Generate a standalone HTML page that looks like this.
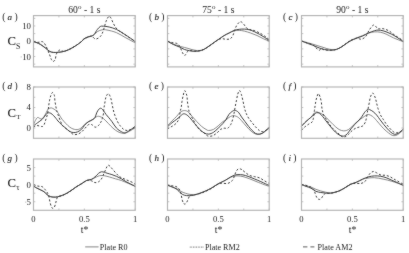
<!DOCTYPE html><html><head><meta charset="utf-8"><style>html,body{margin:0;padding:0;background:#fff;overflow:hidden;}svg{display:block;}text{font-family:"Liberation Serif",serif;fill:#1e1e1e;}</style></head><body>
<svg width="409" height="253" viewBox="0 0 409 253">
<defs><filter id="bl" filterUnits="userSpaceOnUse" x="0" y="0" width="409" height="253" color-interpolation-filters="sRGB"><feConvolveMatrix order="3" kernelMatrix="1 2 1 2 32 2 1 2 1" divisor="44" edgeMode="duplicate"/></filter></defs>
<rect width="409" height="253" fill="#fff"/><g filter="url(#bl)"><rect width="409" height="253" fill="#fff"/>
<path d="M33.5,64.15h1.8M135.2,64.15h-1.8M33.5,56.52h1.8M135.2,56.52h-1.8M33.5,48.88h1.8M135.2,48.88h-1.8M33.5,41.25h1.8M135.2,41.25h-1.8M33.5,33.62h1.8M135.2,33.62h-1.8M33.5,25.98h1.8M135.2,25.98h-1.8M33.5,18.35h1.8M135.2,18.35h-1.8M33.5,15.6v1.8M33.5,66.9v-1.8M58.92,15.6v1.8M58.92,66.9v-1.8M84.35,15.6v1.8M84.35,66.9v-1.8M109.78,15.6v1.8M109.78,66.9v-1.8M135.2,15.6v1.8M135.2,66.9v-1.8" stroke="#b4b4b4" stroke-width="0.8" fill="none"/>
<path d="M33.50,41.50 C34.08,41.73 35.82,42.37 37.00,42.90 C38.18,43.43 39.15,43.78 40.60,44.70 C42.05,45.62 44.22,47.32 45.70,48.40 C47.18,49.48 48.23,50.55 49.50,51.20 C50.77,51.85 51.82,52.12 53.30,52.30 C54.78,52.48 56.70,52.43 58.40,52.30 C60.10,52.17 61.80,51.93 63.50,51.50 C65.20,51.07 66.68,50.58 68.60,49.70 C70.52,48.82 72.88,47.53 75.00,46.20 C77.12,44.87 79.80,42.87 81.30,41.70 C82.80,40.53 82.92,39.95 84.00,39.20 C85.08,38.45 86.53,37.70 87.80,37.20 C89.07,36.70 90.53,36.60 91.60,36.20 C92.67,35.80 93.23,35.57 94.20,34.80 C95.17,34.03 96.08,32.43 97.40,31.60 C98.72,30.77 100.52,30.07 102.10,29.80 C103.68,29.53 104.52,29.53 106.90,30.00 C109.28,30.47 113.25,31.30 116.40,32.60 C119.55,33.90 122.67,36.10 125.80,37.80 C128.93,39.50 133.63,41.97 135.20,42.80" stroke="#7a7a7a" stroke-width="0.9" fill="none" stroke-linejoin="round"/>
<path d="M33.50,41.50 C34.25,41.65 36.50,42.37 38.00,42.40 C39.50,42.43 41.22,41.18 42.50,41.70 C43.78,42.22 44.53,43.38 45.70,45.50 C46.87,47.62 48.55,52.07 49.50,54.40 C50.45,56.73 50.77,58.33 51.40,59.50 C52.03,60.67 52.67,61.40 53.30,61.40 C53.93,61.40 54.67,60.77 55.20,59.50 C55.73,58.23 55.75,55.38 56.50,53.80 C57.25,52.22 58.53,50.42 59.70,50.00 C60.87,49.58 62.02,51.35 63.50,51.30 C64.98,51.25 66.68,50.55 68.60,49.70 C70.52,48.85 72.88,47.53 75.00,46.20 C77.12,44.87 79.80,42.93 81.30,41.70 C82.80,40.47 82.92,39.53 84.00,38.80 C85.08,38.07 86.53,37.73 87.80,37.30 C89.07,36.87 90.40,35.93 91.60,36.20 C92.80,36.47 93.93,38.55 95.00,38.90 C96.07,39.25 97.08,38.73 98.00,38.30 C98.92,37.87 99.80,37.10 100.50,36.30 C101.20,35.50 101.70,34.55 102.20,33.50 C102.70,32.45 103.07,31.33 103.50,30.00 C103.93,28.67 104.38,26.92 104.80,25.50 C105.22,24.08 105.55,22.72 106.00,21.50 C106.45,20.28 106.97,19.08 107.50,18.20 C108.03,17.32 108.62,16.20 109.20,16.20 C109.78,16.20 110.30,16.98 111.00,18.20 C111.70,19.42 112.60,21.93 113.40,23.50 C114.20,25.07 114.92,26.42 115.80,27.60 C116.68,28.78 117.42,29.60 118.70,30.60 C119.98,31.60 121.72,32.42 123.50,33.60 C125.28,34.78 127.42,36.42 129.40,37.70 C131.38,38.98 134.40,40.70 135.40,41.30" stroke="#3c3c3c" stroke-width="1.0" fill="none" stroke-dasharray="2.1,1.9" stroke-linejoin="round"/>
<path d="M33.50,41.50 C34.08,41.70 35.82,42.22 37.00,42.70 C38.18,43.18 39.15,43.50 40.60,44.40 C42.05,45.30 44.22,46.95 45.70,48.10 C47.18,49.25 48.23,50.57 49.50,51.30 C50.77,52.03 51.82,52.33 53.30,52.50 C54.78,52.67 56.70,52.47 58.40,52.30 C60.10,52.13 61.80,51.93 63.50,51.50 C65.20,51.07 66.68,50.58 68.60,49.70 C70.52,48.82 72.88,47.53 75.00,46.20 C77.12,44.87 79.80,42.93 81.30,41.70 C82.80,40.47 82.92,39.60 84.00,38.80 C85.08,38.00 86.53,37.38 87.80,36.90 C89.07,36.42 90.53,36.33 91.60,35.90 C92.67,35.47 93.23,35.38 94.20,34.30 C95.17,33.22 96.38,30.70 97.40,29.40 C98.42,28.10 99.32,27.03 100.30,26.50 C101.28,25.97 101.82,26.12 103.30,26.20 C104.78,26.28 107.02,26.47 109.20,27.00 C111.38,27.53 114.02,28.30 116.40,29.40 C118.78,30.50 121.13,32.12 123.50,33.60 C125.87,35.08 128.62,36.92 130.60,38.30 C132.58,39.68 134.60,41.30 135.40,41.90" stroke="#404040" stroke-width="1.0" fill="none" stroke-linejoin="round"/>
<rect x="33.5" y="15.6" width="101.7" height="51.3" fill="none" stroke="#b4b4b4" stroke-width="1.15"/>
<path d="M167.5,64.15h1.8M269.2,64.15h-1.8M167.5,56.52h1.8M269.2,56.52h-1.8M167.5,48.88h1.8M269.2,48.88h-1.8M167.5,41.25h1.8M269.2,41.25h-1.8M167.5,33.62h1.8M269.2,33.62h-1.8M167.5,25.98h1.8M269.2,25.98h-1.8M167.5,18.35h1.8M269.2,18.35h-1.8M167.5,15.6v1.8M167.5,66.9v-1.8M192.93,15.6v1.8M192.93,66.9v-1.8M218.35,15.6v1.8M218.35,66.9v-1.8M243.78,15.6v1.8M243.78,66.9v-1.8M269.2,15.6v1.8M269.2,66.9v-1.8" stroke="#b4b4b4" stroke-width="0.8" fill="none"/>
<path d="M167.50,41.20 C168.47,41.67 171.72,43.32 173.30,44.00 C174.88,44.68 175.77,44.87 177.00,45.30 C178.23,45.73 179.48,46.25 180.70,46.60 C181.92,46.95 183.08,47.10 184.30,47.40 C185.52,47.70 186.72,48.03 188.00,48.40 C189.28,48.77 190.67,49.27 192.00,49.60 C193.33,49.93 194.83,50.23 196.00,50.40 C197.17,50.57 197.68,50.77 199.00,50.60 C200.32,50.43 202.07,50.27 203.90,49.40 C205.73,48.53 207.98,46.78 210.00,45.40 C212.02,44.02 214.50,42.15 216.00,41.10 C217.50,40.05 217.65,40.02 219.00,39.10 C220.35,38.18 222.42,36.62 224.10,35.60 C225.78,34.58 227.42,33.80 229.10,33.00 C230.78,32.20 232.50,31.23 234.20,30.80 C235.90,30.37 237.62,30.35 239.30,30.40 C240.98,30.45 242.42,30.67 244.30,31.10 C246.18,31.53 248.48,32.27 250.60,33.00 C252.72,33.73 254.88,34.55 257.00,35.50 C259.12,36.45 261.27,37.75 263.30,38.70 C265.33,39.65 268.22,40.78 269.20,41.20" stroke="#7a7a7a" stroke-width="0.9" fill="none" stroke-linejoin="round"/>
<path d="M167.50,41.20 C168.23,41.43 170.37,42.18 171.90,42.55 C173.43,42.92 175.52,42.96 176.70,43.40 C177.88,43.84 178.32,44.30 179.00,45.20 C179.68,46.10 180.20,47.52 180.80,48.80 C181.40,50.08 182.00,51.82 182.60,52.90 C183.20,53.98 183.80,55.10 184.40,55.30 C185.00,55.50 185.70,54.70 186.20,54.10 C186.70,53.50 186.82,52.30 187.40,51.70 C187.98,51.10 188.58,50.60 189.70,50.50 C190.82,50.40 192.55,51.05 194.10,51.10 C195.65,51.15 197.37,51.08 199.00,50.80 C200.63,50.52 202.07,50.30 203.90,49.40 C205.73,48.50 207.98,46.78 210.00,45.40 C212.02,44.02 214.42,42.17 216.00,41.10 C217.58,40.03 218.37,39.38 219.50,39.00 C220.63,38.62 221.62,38.75 222.80,38.80 C223.98,38.85 225.33,39.32 226.60,39.30 C227.87,39.28 229.35,39.33 230.40,38.70 C231.45,38.07 232.17,36.98 232.90,35.50 C233.63,34.02 234.17,31.48 234.80,29.80 C235.43,28.12 235.95,26.67 236.70,25.40 C237.45,24.13 238.67,22.80 239.30,22.20 C239.93,21.60 240.08,21.80 240.50,21.80 C240.92,21.80 241.27,21.82 241.80,22.20 C242.33,22.58 243.07,23.35 243.70,24.10 C244.33,24.85 244.87,25.85 245.60,26.70 C246.33,27.55 247.05,28.67 248.10,29.20 C249.15,29.73 250.42,29.48 251.90,29.90 C253.38,30.32 255.32,30.97 257.00,31.70 C258.68,32.43 260.32,33.25 262.00,34.30 C263.68,35.35 265.90,37.10 267.10,38.00 C268.30,38.90 268.85,39.42 269.20,39.70" stroke="#3c3c3c" stroke-width="1.0" fill="none" stroke-dasharray="2.1,1.9" stroke-linejoin="round"/>
<path d="M167.50,41.20 C168.47,41.75 171.32,43.51 173.30,44.48 C175.28,45.45 177.57,46.18 179.40,47.00 C181.23,47.82 182.67,48.78 184.30,49.40 C185.93,50.02 187.57,50.38 189.20,50.70 C190.83,51.02 192.47,51.25 194.10,51.30 C195.73,51.35 197.37,51.32 199.00,51.00 C200.63,50.68 202.07,50.33 203.90,49.40 C205.73,48.47 207.98,46.78 210.00,45.40 C212.02,44.02 214.50,42.15 216.00,41.10 C217.50,40.05 217.65,40.02 219.00,39.10 C220.35,38.18 222.42,36.62 224.10,35.60 C225.78,34.58 227.42,33.87 229.10,33.00 C230.78,32.13 232.50,31.02 234.20,30.40 C235.90,29.78 237.62,29.52 239.30,29.30 C240.98,29.08 242.62,29.02 244.30,29.10 C245.98,29.18 247.72,29.37 249.40,29.80 C251.08,30.23 252.72,30.95 254.40,31.70 C256.08,32.45 257.80,33.35 259.50,34.30 C261.20,35.25 262.98,36.35 264.60,37.40 C266.22,38.45 268.43,40.07 269.20,40.60" stroke="#404040" stroke-width="1.0" fill="none" stroke-linejoin="round"/>
<rect x="167.5" y="15.6" width="101.7" height="51.3" fill="none" stroke="#b4b4b4" stroke-width="1.15"/>
<path d="M301.5,64.15h1.8M403.2,64.15h-1.8M301.5,56.52h1.8M403.2,56.52h-1.8M301.5,48.88h1.8M403.2,48.88h-1.8M301.5,41.25h1.8M403.2,41.25h-1.8M301.5,33.62h1.8M403.2,33.62h-1.8M301.5,25.98h1.8M403.2,25.98h-1.8M301.5,18.35h1.8M403.2,18.35h-1.8M301.5,15.6v1.8M301.5,66.9v-1.8M326.93,15.6v1.8M326.93,66.9v-1.8M352.35,15.6v1.8M352.35,66.9v-1.8M377.77,15.6v1.8M377.77,66.9v-1.8M403.2,15.6v1.8M403.2,66.9v-1.8" stroke="#b4b4b4" stroke-width="0.8" fill="none"/>
<path d="M301.50,41.00 C302.47,41.27 305.52,42.10 307.30,42.60 C309.08,43.10 310.57,43.52 312.20,44.00 C313.83,44.48 315.47,45.00 317.10,45.50 C318.73,46.00 320.37,46.48 322.00,47.00 C323.63,47.52 325.27,48.17 326.90,48.60 C328.53,49.03 330.17,49.48 331.80,49.60 C333.43,49.72 335.07,49.76 336.70,49.30 C338.33,48.84 339.97,47.82 341.60,46.82 C343.23,45.82 344.95,44.36 346.50,43.30 C348.05,42.23 349.20,41.35 350.90,40.43 C352.60,39.51 354.75,38.60 356.70,37.80 C358.65,36.99 360.63,36.38 362.60,35.60 C364.57,34.82 366.55,33.72 368.50,33.10 C370.45,32.48 372.35,32.05 374.30,31.90 C376.25,31.75 378.23,31.83 380.20,32.20 C382.17,32.57 383.90,33.17 386.10,34.10 C388.30,35.03 390.52,36.52 393.40,37.80 C396.28,39.07 401.73,41.09 403.40,41.75" stroke="#7a7a7a" stroke-width="0.9" fill="none" stroke-linejoin="round"/>
<path d="M301.50,41.00 C302.47,41.33 305.52,42.39 307.30,42.99 C309.08,43.59 310.92,44.00 312.20,44.60 C313.48,45.20 314.12,45.80 315.00,46.60 C315.88,47.40 316.75,48.80 317.50,49.40 C318.25,50.00 318.83,50.33 319.50,50.20 C320.17,50.07 320.75,48.65 321.50,48.60 C322.25,48.55 323.10,49.65 324.00,49.90 C324.90,50.15 325.60,50.05 326.90,50.10 C328.20,50.15 330.17,50.33 331.80,50.20 C333.43,50.07 335.07,49.86 336.70,49.30 C338.33,48.74 339.97,47.84 341.60,46.82 C343.23,45.80 344.95,44.30 346.50,43.20 C348.05,42.10 349.20,41.03 350.90,40.20 C352.60,39.37 355.00,38.37 356.70,38.20 C358.40,38.03 359.63,39.45 361.10,39.20 C362.57,38.95 364.15,38.22 365.50,36.70 C366.85,35.18 367.97,31.98 369.20,30.10 C370.43,28.22 371.92,26.13 372.90,25.40 C373.88,24.67 374.25,25.15 375.10,25.70 C375.95,26.25 376.67,28.20 378.00,28.70 C379.33,29.20 381.27,28.33 383.10,28.70 C384.93,29.07 387.03,29.80 389.00,30.90 C390.97,32.00 392.50,33.65 394.90,35.30 C397.30,36.95 401.98,39.88 403.40,40.80" stroke="#3c3c3c" stroke-width="1.0" fill="none" stroke-dasharray="2.1,1.9" stroke-linejoin="round"/>
<path d="M301.50,41.00 C302.47,41.38 305.52,42.62 307.30,43.29 C309.08,43.96 310.57,44.37 312.20,45.00 C313.83,45.63 315.47,46.45 317.10,47.10 C318.73,47.75 320.37,48.43 322.00,48.90 C323.63,49.37 325.27,49.68 326.90,49.90 C328.53,50.12 330.17,50.30 331.80,50.20 C333.43,50.10 335.07,49.86 336.70,49.30 C338.33,48.74 339.97,47.80 341.60,46.82 C343.23,45.84 344.95,44.45 346.50,43.44 C348.05,42.42 349.20,41.60 350.90,40.73 C352.60,39.86 354.75,38.99 356.70,38.20 C358.65,37.41 360.63,36.87 362.60,36.00 C364.57,35.13 366.55,33.87 368.50,33.00 C370.45,32.13 372.72,31.28 374.30,30.80 C375.88,30.32 376.53,30.10 378.00,30.10 C379.47,30.10 381.27,30.32 383.10,30.80 C384.93,31.28 387.03,32.13 389.00,33.00 C390.97,33.87 392.50,34.57 394.90,36.00 C397.30,37.43 401.98,40.65 403.40,41.58" stroke="#404040" stroke-width="1.0" fill="none" stroke-linejoin="round"/>
<rect x="301.5" y="15.6" width="101.7" height="51.3" fill="none" stroke="#b4b4b4" stroke-width="1.15"/>
<path d="M33.5,128.04h1.8M135.2,128.04h-1.8M33.5,117.78h1.8M135.2,117.78h-1.8M33.5,107.52h1.8M135.2,107.52h-1.8M33.5,97.26h1.8M135.2,97.26h-1.8M33.5,87h1.8M135.2,87h-1.8M33.5,87v1.8M33.5,138.3v-1.8M58.92,87v1.8M58.92,138.3v-1.8M84.35,87v1.8M84.35,138.3v-1.8M109.78,87v1.8M109.78,138.3v-1.8M135.2,87v1.8M135.2,138.3v-1.8" stroke="#b4b4b4" stroke-width="0.8" fill="none"/>
<path d="M33.50,124.70 C33.80,124.02 34.63,121.80 35.30,120.60 C35.97,119.40 36.77,117.87 37.50,117.50 C38.23,117.13 39.05,118.17 39.70,118.40 C40.35,118.63 40.83,119.00 41.40,118.90 C41.97,118.80 42.45,118.53 43.10,117.80 C43.75,117.07 44.57,115.78 45.30,114.50 C46.03,113.22 46.95,111.08 47.50,110.10 C48.05,109.12 47.95,108.97 48.60,108.60 C49.25,108.23 50.48,107.80 51.40,107.90 C52.32,108.00 53.30,108.72 54.10,109.20 C54.90,109.68 55.47,110.08 56.20,110.80 C56.93,111.52 57.48,112.05 58.50,113.50 C59.52,114.95 60.43,117.23 62.30,119.50 C64.17,121.77 67.45,125.42 69.70,127.10 C71.95,128.78 73.97,129.40 75.80,129.60 C77.63,129.80 79.07,129.33 80.70,128.30 C82.33,127.27 83.97,124.62 85.60,123.40 C87.23,122.18 88.67,122.12 90.50,121.00 C92.33,119.88 95.02,117.43 96.60,116.70 C98.18,115.97 98.83,116.27 100.00,116.60 C101.17,116.93 102.22,117.57 103.60,118.70 C104.98,119.83 106.73,121.82 108.30,123.40 C109.87,124.98 111.42,126.82 113.00,128.20 C114.58,129.58 116.32,130.88 117.80,131.70 C119.28,132.52 120.72,132.83 121.90,133.10 C123.08,133.37 123.60,133.63 124.90,133.30 C126.20,132.97 127.95,132.05 129.70,131.10 C131.45,130.15 134.45,128.18 135.40,127.60" stroke="#7a7a7a" stroke-width="0.9" fill="none" stroke-linejoin="round"/>
<path d="M33.50,127.20 C33.98,126.93 35.45,125.82 36.40,125.60 C37.35,125.38 38.18,125.75 39.20,125.90 C40.22,126.05 41.67,126.73 42.50,126.50 C43.33,126.27 43.73,125.40 44.20,124.50 C44.67,123.60 44.93,122.22 45.30,121.10 C45.67,119.98 46.03,118.98 46.40,117.80 C46.77,116.62 47.18,115.47 47.50,114.00 C47.82,112.53 48.08,110.50 48.30,109.00 C48.52,107.50 48.58,106.47 48.80,105.00 C49.02,103.53 49.27,101.78 49.60,100.20 C49.93,98.62 50.30,96.78 50.80,95.50 C51.30,94.22 52.00,92.50 52.60,92.50 C53.20,92.50 54.02,94.12 54.40,95.50 C54.78,96.88 54.67,99.02 54.90,100.80 C55.13,102.58 55.52,104.67 55.80,106.20 C56.08,107.73 56.27,108.70 56.60,110.00 C56.93,111.30 57.23,112.33 57.80,114.00 C58.37,115.67 59.18,118.03 60.00,120.00 C60.82,121.97 61.70,124.37 62.70,125.80 C63.70,127.23 64.82,127.63 66.00,128.60 C67.18,129.57 68.57,130.63 69.80,131.60 C71.03,132.57 72.08,133.97 73.40,134.40 C74.72,134.83 76.32,134.63 77.70,134.20 C79.08,133.77 80.43,132.83 81.70,131.80 C82.97,130.77 84.18,129.18 85.30,128.00 C86.42,126.82 87.33,125.27 88.40,124.70 C89.47,124.13 90.58,124.18 91.70,124.60 C92.82,125.02 93.98,127.03 95.10,127.20 C96.22,127.37 97.40,126.52 98.40,125.60 C99.40,124.68 100.45,122.90 101.10,121.70 C101.75,120.50 101.92,119.68 102.30,118.40 C102.68,117.12 103.13,115.67 103.40,114.00 C103.67,112.33 103.68,110.10 103.90,108.40 C104.12,106.70 104.37,105.65 104.70,103.80 C105.03,101.95 105.30,98.98 105.90,97.30 C106.50,95.62 107.50,93.60 108.30,93.70 C109.10,93.80 110.00,95.82 110.70,97.90 C111.40,99.98 111.92,103.63 112.50,106.20 C113.08,108.77 113.42,110.83 114.20,113.30 C114.98,115.77 116.20,118.92 117.20,121.00 C118.20,123.08 119.12,124.40 120.20,125.80 C121.28,127.20 122.52,128.62 123.70,129.40 C124.88,130.18 126.12,130.50 127.30,130.50 C128.48,130.50 129.45,129.95 130.80,129.40 C132.15,128.85 134.63,127.57 135.40,127.20" stroke="#3c3c3c" stroke-width="1.0" fill="none" stroke-dasharray="2.1,1.9" stroke-linejoin="round"/>
<path d="M33.50,125.80 C34.17,125.30 36.08,123.85 37.50,122.80 C38.92,121.75 40.80,120.60 42.00,119.50 C43.20,118.40 43.88,117.22 44.70,116.20 C45.52,115.18 46.25,113.97 46.90,113.40 C47.55,112.83 47.95,112.82 48.60,112.80 C49.25,112.78 49.97,112.83 50.80,113.30 C51.63,113.77 52.73,114.75 53.60,115.60 C54.47,116.45 55.27,117.50 56.00,118.40 C56.73,119.30 57.13,120.02 58.00,121.00 C58.87,121.98 59.88,123.08 61.20,124.30 C62.52,125.52 64.47,127.10 65.90,128.30 C67.33,129.50 68.48,130.78 69.80,131.50 C71.12,132.22 72.48,132.55 73.80,132.60 C75.12,132.65 76.38,132.38 77.70,131.80 C79.02,131.22 80.57,130.17 81.70,129.10 C82.83,128.03 83.38,126.65 84.50,125.40 C85.62,124.15 87.00,122.58 88.40,121.60 C89.80,120.62 91.78,120.22 92.90,119.50 C94.02,118.78 94.47,118.42 95.10,117.30 C95.73,116.18 96.07,114.15 96.70,112.80 C97.33,111.45 98.17,109.95 98.90,109.20 C99.63,108.45 100.35,108.07 101.10,108.30 C101.85,108.53 102.57,109.57 103.40,110.60 C104.23,111.63 105.18,113.30 106.10,114.50 C107.02,115.70 107.92,116.60 108.90,117.80 C109.88,119.00 110.72,119.97 112.00,121.70 C113.28,123.43 115.03,126.53 116.60,128.20 C118.17,129.87 120.02,130.92 121.40,131.70 C122.78,132.48 123.72,133.00 124.90,132.90 C126.08,132.80 127.32,131.78 128.50,131.10 C129.68,130.42 130.85,129.68 132.00,128.80 C133.15,127.92 134.83,126.30 135.40,125.80" stroke="#404040" stroke-width="1.0" fill="none" stroke-linejoin="round"/>
<rect x="33.5" y="87" width="101.7" height="51.3" fill="none" stroke="#b4b4b4" stroke-width="1.15"/>
<path d="M167.5,128.04h1.8M269.2,128.04h-1.8M167.5,117.78h1.8M269.2,117.78h-1.8M167.5,107.52h1.8M269.2,107.52h-1.8M167.5,97.26h1.8M269.2,97.26h-1.8M167.5,87h1.8M269.2,87h-1.8M167.5,87v1.8M167.5,138.3v-1.8M192.93,87v1.8M192.93,138.3v-1.8M218.35,87v1.8M218.35,138.3v-1.8M243.78,87v1.8M243.78,138.3v-1.8M269.2,87v1.8M269.2,138.3v-1.8" stroke="#b4b4b4" stroke-width="0.8" fill="none"/>
<path d="M167.30,125.80 C168.07,125.00 170.33,122.58 171.90,121.00 C173.47,119.42 175.32,117.77 176.70,116.30 C178.08,114.83 179.02,113.15 180.20,112.20 C181.38,111.25 182.52,110.70 183.80,110.60 C185.08,110.50 186.52,110.65 187.90,111.60 C189.28,112.55 190.62,114.63 192.10,116.30 C193.58,117.97 195.22,119.92 196.80,121.60 C198.38,123.28 200.07,125.10 201.60,126.40 C203.13,127.70 204.82,128.72 206.00,129.40 C207.18,130.08 207.45,130.50 208.70,130.50 C209.95,130.50 211.92,130.18 213.50,129.40 C215.08,128.62 216.62,127.10 218.20,125.80 C219.78,124.50 221.70,122.58 223.00,121.60 C224.30,120.62 225.02,120.58 226.00,119.90 C226.98,119.22 227.82,118.20 228.90,117.50 C229.98,116.80 231.32,115.92 232.50,115.70 C233.68,115.48 234.90,115.80 236.00,116.20 C237.10,116.60 237.78,116.90 239.10,118.10 C240.42,119.30 242.32,121.62 243.90,123.40 C245.48,125.18 247.02,127.22 248.60,128.80 C250.18,130.38 252.02,131.98 253.40,132.90 C254.78,133.82 255.72,134.10 256.90,134.30 C258.08,134.50 259.32,134.43 260.50,134.10 C261.68,133.77 262.55,133.28 264.00,132.30 C265.45,131.32 268.33,128.88 269.20,128.20" stroke="#7a7a7a" stroke-width="0.9" fill="none" stroke-linejoin="round"/>
<path d="M167.30,128.80 C168.07,128.40 170.43,127.30 171.90,126.40 C173.37,125.50 174.92,124.68 176.10,123.40 C177.28,122.12 178.32,120.68 179.00,118.70 C179.68,116.72 179.83,113.38 180.20,111.50 C180.57,109.62 180.90,109.08 181.20,107.40 C181.50,105.72 181.67,103.38 182.00,101.40 C182.33,99.42 182.75,97.28 183.20,95.50 C183.65,93.72 184.10,90.70 184.70,90.70 C185.30,90.70 186.35,93.72 186.80,95.50 C187.25,97.28 187.15,99.42 187.40,101.40 C187.65,103.38 188.02,105.72 188.30,107.40 C188.58,109.08 188.82,110.40 189.10,111.50 C189.38,112.60 189.30,112.60 190.00,114.00 C190.70,115.40 192.17,117.83 193.30,119.90 C194.43,121.97 195.62,124.63 196.80,126.40 C197.98,128.17 199.20,129.43 200.40,130.50 C201.60,131.57 202.80,131.90 204.00,132.80 C205.20,133.70 206.22,135.38 207.60,135.90 C208.98,136.42 210.73,136.40 212.30,135.90 C213.87,135.40 215.62,133.98 217.00,132.90 C218.38,131.82 219.40,130.18 220.60,129.40 C221.80,128.62 223.02,128.40 224.20,128.20 C225.38,128.00 226.62,128.80 227.70,128.20 C228.78,127.60 229.90,125.98 230.70,124.60 C231.50,123.22 232.00,121.48 232.50,119.90 C233.00,118.32 233.38,116.50 233.70,115.10 C234.02,113.70 234.13,112.98 234.40,111.50 C234.67,110.02 234.95,108.08 235.30,106.20 C235.65,104.32 236.10,102.18 236.50,100.20 C236.90,98.22 237.20,95.92 237.70,94.30 C238.20,92.68 238.90,90.50 239.50,90.50 C240.10,90.50 240.75,92.68 241.30,94.30 C241.85,95.92 242.32,98.12 242.80,100.20 C243.28,102.28 243.78,105.00 244.20,106.80 C244.62,108.60 244.93,109.83 245.30,111.00 C245.67,112.17 245.85,112.62 246.40,113.80 C246.95,114.98 247.63,116.60 248.60,118.10 C249.57,119.60 251.02,121.32 252.20,122.80 C253.38,124.28 254.52,125.72 255.70,127.00 C256.88,128.28 258.12,129.72 259.30,130.50 C260.48,131.28 261.62,131.80 262.80,131.70 C263.98,131.60 265.33,130.58 266.40,129.90 C267.47,129.22 268.73,127.98 269.20,127.60" stroke="#3c3c3c" stroke-width="1.0" fill="none" stroke-dasharray="2.1,1.9" stroke-linejoin="round"/>
<path d="M167.30,127.00 C168.07,126.30 170.33,124.08 171.90,122.80 C173.47,121.52 175.32,120.38 176.70,119.30 C178.08,118.22 179.12,117.20 180.20,116.30 C181.28,115.40 182.20,114.20 183.20,113.90 C184.20,113.60 185.12,113.90 186.20,114.50 C187.28,115.10 188.32,116.02 189.70,117.50 C191.08,118.98 192.92,121.52 194.50,123.40 C196.08,125.28 197.62,127.22 199.20,128.80 C200.78,130.38 202.42,132.02 204.00,132.90 C205.58,133.78 207.12,134.20 208.70,134.10 C210.28,134.00 211.92,133.28 213.50,132.30 C215.08,131.32 216.62,129.68 218.20,128.20 C219.78,126.72 221.70,124.85 223.00,123.40 C224.30,121.95 225.02,120.98 226.00,119.50 C226.98,118.02 227.92,115.82 228.90,114.50 C229.88,113.18 230.92,112.28 231.90,111.60 C232.88,110.92 233.72,110.30 234.80,110.40 C235.88,110.50 237.28,111.12 238.40,112.20 C239.52,113.28 240.40,115.33 241.50,116.90 C242.60,118.47 243.82,120.02 245.00,121.60 C246.18,123.18 247.40,124.92 248.60,126.40 C249.80,127.88 251.02,129.32 252.20,130.50 C253.38,131.68 254.52,132.90 255.70,133.50 C256.88,134.10 258.12,134.20 259.30,134.10 C260.48,134.00 261.62,133.60 262.80,132.90 C263.98,132.20 265.33,130.78 266.40,129.90 C267.47,129.02 268.73,127.98 269.20,127.60" stroke="#404040" stroke-width="1.0" fill="none" stroke-linejoin="round"/>
<rect x="167.5" y="87" width="101.7" height="51.3" fill="none" stroke="#b4b4b4" stroke-width="1.15"/>
<path d="M301.5,128.04h1.8M403.2,128.04h-1.8M301.5,117.78h1.8M403.2,117.78h-1.8M301.5,107.52h1.8M403.2,107.52h-1.8M301.5,97.26h1.8M403.2,97.26h-1.8M301.5,87h1.8M403.2,87h-1.8M301.5,87v1.8M301.5,138.3v-1.8M326.93,87v1.8M326.93,138.3v-1.8M352.35,87v1.8M352.35,138.3v-1.8M377.77,87v1.8M377.77,138.3v-1.8M403.2,87v1.8M403.2,138.3v-1.8" stroke="#b4b4b4" stroke-width="0.8" fill="none"/>
<path d="M301.50,126.20 C302.23,125.43 304.37,123.05 305.90,121.60 C307.43,120.15 309.12,119.07 310.70,117.50 C312.28,115.93 314.02,113.00 315.40,112.20 C316.78,111.40 317.62,112.22 319.00,112.70 C320.38,113.18 322.12,113.90 323.70,115.10 C325.28,116.30 326.92,118.32 328.50,119.90 C330.08,121.48 331.62,123.12 333.20,124.60 C334.78,126.08 336.60,127.82 338.00,128.80 C339.40,129.78 340.42,130.17 341.60,130.50 C342.78,130.83 343.92,130.98 345.10,130.80 C346.28,130.62 347.52,130.13 348.70,129.40 C349.88,128.67 351.02,127.50 352.20,126.40 C353.38,125.30 354.60,123.88 355.80,122.80 C357.00,121.72 358.22,120.78 359.40,119.90 C360.58,119.02 361.72,118.30 362.90,117.50 C364.08,116.70 365.52,115.60 366.50,115.10 C367.48,114.60 367.82,114.30 368.80,114.50 C369.78,114.70 371.45,115.68 372.40,116.30 C373.35,116.92 373.40,117.02 374.50,118.20 C375.60,119.38 377.45,121.63 379.00,123.40 C380.55,125.17 382.22,127.22 383.80,128.80 C385.38,130.38 387.12,131.82 388.50,132.90 C389.88,133.98 390.90,134.87 392.10,135.30 C393.30,135.73 394.52,135.80 395.70,135.50 C396.88,135.20 397.92,134.43 399.20,133.50 C400.48,132.57 402.70,130.50 403.40,129.90" stroke="#7a7a7a" stroke-width="0.9" fill="none" stroke-linejoin="round"/>
<path d="M301.50,130.30 C302.03,129.75 303.47,128.05 304.70,127.00 C305.93,125.95 307.70,124.80 308.90,124.00 C310.10,123.20 311.17,123.08 311.90,122.20 C312.63,121.32 312.92,120.38 313.30,118.70 C313.68,117.02 313.95,113.88 314.20,112.10 C314.45,110.32 314.60,109.38 314.80,108.00 C315.00,106.62 315.10,105.48 315.40,103.80 C315.70,102.12 316.10,99.58 316.60,97.90 C317.10,96.22 317.80,93.80 318.40,93.70 C319.00,93.60 319.70,95.82 320.20,97.30 C320.70,98.78 321.12,100.82 321.40,102.60 C321.68,104.38 321.72,106.62 321.90,108.00 C322.08,109.38 322.20,109.72 322.50,110.90 C322.80,112.08 323.00,113.60 323.70,115.10 C324.40,116.60 325.70,118.32 326.70,119.90 C327.70,121.48 328.72,123.22 329.70,124.60 C330.68,125.98 331.62,127.12 332.60,128.20 C333.58,129.28 334.52,130.12 335.60,131.10 C336.68,132.08 338.03,133.18 339.10,134.10 C340.17,135.02 341.00,136.15 342.00,136.60 C343.00,137.05 343.98,137.22 345.10,136.80 C346.22,136.38 347.52,135.15 348.70,134.10 C349.88,133.05 351.02,131.48 352.20,130.50 C353.38,129.52 354.60,128.78 355.80,128.20 C357.00,127.62 358.22,127.40 359.40,127.00 C360.58,126.60 361.92,126.60 362.90,125.80 C363.88,125.00 364.70,123.58 365.30,122.20 C365.90,120.82 366.12,119.38 366.50,117.50 C366.88,115.62 367.32,112.48 367.60,110.90 C367.88,109.32 367.92,109.38 368.20,108.00 C368.48,106.62 368.92,104.48 369.30,102.60 C369.68,100.72 369.90,98.28 370.50,96.70 C371.10,95.12 372.10,92.90 372.90,93.10 C373.70,93.30 374.70,96.32 375.30,97.90 C375.90,99.48 376.05,100.83 376.50,102.60 C376.95,104.37 377.38,106.52 378.00,108.50 C378.62,110.48 379.33,112.70 380.20,114.50 C381.07,116.30 382.20,117.72 383.20,119.30 C384.20,120.88 385.12,122.52 386.20,124.00 C387.28,125.48 388.52,126.92 389.70,128.20 C390.88,129.48 392.12,130.92 393.30,131.70 C394.48,132.48 395.62,132.90 396.80,132.90 C397.98,132.90 399.30,132.28 400.40,131.70 C401.50,131.12 402.90,129.78 403.40,129.40" stroke="#3c3c3c" stroke-width="1.0" fill="none" stroke-dasharray="2.1,1.9" stroke-linejoin="round"/>
<path d="M301.50,126.20 C302.23,125.43 304.37,123.05 305.90,121.60 C307.43,120.15 309.32,118.68 310.70,117.50 C312.08,116.32 313.22,115.30 314.20,114.50 C315.18,113.70 315.70,112.90 316.60,112.70 C317.50,112.50 318.62,112.70 319.60,113.30 C320.58,113.90 321.42,115.02 322.50,116.30 C323.58,117.58 324.72,119.22 326.10,121.00 C327.48,122.78 329.22,125.12 330.80,127.00 C332.38,128.88 334.07,130.90 335.60,132.30 C337.13,133.70 338.85,134.78 340.00,135.40 C341.15,136.02 341.75,135.92 342.50,136.00 C343.25,136.08 343.67,136.32 344.50,135.90 C345.33,135.48 346.42,134.68 347.50,133.50 C348.58,132.32 349.82,130.28 351.00,128.80 C352.18,127.32 353.40,125.90 354.60,124.60 C355.80,123.30 357.02,122.28 358.20,121.00 C359.38,119.72 360.62,118.37 361.70,116.90 C362.78,115.43 363.70,113.45 364.70,112.20 C365.70,110.95 366.88,109.83 367.70,109.40 C368.52,108.97 368.70,109.23 369.60,109.60 C370.50,109.97 371.92,110.68 373.10,111.60 C374.28,112.52 375.52,113.72 376.70,115.10 C377.88,116.48 379.02,118.32 380.20,119.90 C381.38,121.48 382.60,123.12 383.80,124.60 C385.00,126.08 386.22,127.52 387.40,128.80 C388.58,130.08 389.72,131.38 390.90,132.30 C392.08,133.22 393.32,134.10 394.50,134.30 C395.68,134.50 396.82,134.13 398.00,133.50 C399.18,132.87 400.70,131.28 401.60,130.50 C402.50,129.72 403.10,129.08 403.40,128.80" stroke="#404040" stroke-width="1.0" fill="none" stroke-linejoin="round"/>
<rect x="301.5" y="87" width="101.7" height="51.3" fill="none" stroke="#b4b4b4" stroke-width="1.15"/>
<path d="M33.5,201.75h1.8M135.2,201.75h-1.8M33.5,193.2h1.8M135.2,193.2h-1.8M33.5,184.65h1.8M135.2,184.65h-1.8M33.5,176.1h1.8M135.2,176.1h-1.8M33.5,167.55h1.8M135.2,167.55h-1.8M33.5,159v1.8M33.5,210.3v-1.8M58.92,159v1.8M58.92,210.3v-1.8M84.35,159v1.8M84.35,210.3v-1.8M109.78,159v1.8M109.78,210.3v-1.8M135.2,159v1.8M135.2,210.3v-1.8" stroke="#b4b4b4" stroke-width="0.8" fill="none"/>
<path d="M33.50,186.10 C34.03,186.42 35.55,187.38 36.70,188.00 C37.85,188.62 39.18,189.18 40.40,189.80 C41.62,190.42 42.88,190.92 44.00,191.70 C45.12,192.48 46.07,193.72 47.10,194.50 C48.13,195.28 49.07,195.98 50.20,196.40 C51.33,196.82 52.68,196.93 53.90,197.00 C55.12,197.07 56.08,197.08 57.50,196.80 C58.92,196.52 60.75,195.95 62.40,195.30 C64.05,194.65 65.63,193.92 67.40,192.90 C69.17,191.88 71.58,190.17 73.00,189.20 C74.42,188.23 74.42,188.05 75.90,187.10 C77.38,186.15 80.12,184.60 81.90,183.50 C83.68,182.40 85.02,181.18 86.60,180.50 C88.18,179.82 90.02,179.85 91.40,179.40 C92.78,178.95 93.80,178.33 94.90,177.80 C96.00,177.27 96.98,176.58 98.00,176.20 C99.02,175.82 99.88,175.57 101.00,175.50 C102.12,175.43 103.28,175.55 104.70,175.80 C106.12,176.05 107.72,176.50 109.50,177.00 C111.28,177.50 113.42,178.22 115.40,178.80 C117.38,179.38 119.22,179.72 121.40,180.50 C123.58,181.28 126.17,182.50 128.50,183.50 C130.83,184.50 134.25,186.00 135.40,186.50" stroke="#7a7a7a" stroke-width="0.9" fill="none" stroke-linejoin="round"/>
<path d="M33.50,184.70 C34.23,184.93 36.45,185.77 37.90,186.10 C39.35,186.43 40.97,186.08 42.20,186.70 C43.43,187.32 44.40,188.72 45.30,189.80 C46.20,190.88 47.05,192.20 47.60,193.20 C48.15,194.20 48.32,194.90 48.60,195.80 C48.88,196.70 49.05,197.47 49.30,198.60 C49.55,199.73 49.77,201.27 50.10,202.60 C50.43,203.93 50.88,205.65 51.30,206.60 C51.72,207.55 52.13,208.13 52.60,208.30 C53.07,208.47 53.67,208.15 54.10,207.60 C54.53,207.05 54.90,205.90 55.20,205.00 C55.50,204.10 55.65,203.15 55.90,202.20 C56.15,201.25 56.38,200.20 56.70,199.30 C57.02,198.40 56.85,197.43 57.80,196.80 C58.75,196.17 60.80,196.13 62.40,195.50 C64.00,194.87 65.63,194.03 67.40,193.00 C69.17,191.97 71.58,190.28 73.00,189.30 C74.42,188.32 74.42,188.07 75.90,187.10 C77.38,186.13 80.12,184.60 81.90,183.50 C83.68,182.40 85.02,180.95 86.60,180.50 C88.18,180.05 90.00,180.45 91.40,180.80 C92.80,181.15 93.82,182.43 95.00,182.60 C96.18,182.77 97.43,182.40 98.50,181.80 C99.57,181.20 100.52,180.33 101.40,179.00 C102.28,177.67 103.08,175.38 103.80,173.80 C104.52,172.22 105.17,170.72 105.70,169.50 C106.23,168.28 106.55,167.22 107.00,166.50 C107.45,165.78 107.90,165.23 108.40,165.20 C108.90,165.17 109.37,165.70 110.00,166.30 C110.63,166.90 111.20,167.65 112.20,168.80 C113.20,169.95 114.73,171.87 116.00,173.20 C117.27,174.53 118.43,175.85 119.80,176.80 C121.17,177.75 122.72,178.23 124.20,178.90 C125.68,179.57 127.22,180.17 128.70,180.80 C130.18,181.43 131.98,182.12 133.10,182.70 C134.22,183.28 135.02,184.03 135.40,184.30" stroke="#3c3c3c" stroke-width="1.0" fill="none" stroke-dasharray="2.1,1.9" stroke-linejoin="round"/>
<path d="M33.50,186.10 C34.03,186.42 35.55,187.38 36.70,188.00 C37.85,188.62 39.18,189.18 40.40,189.80 C41.62,190.42 42.88,190.88 44.00,191.70 C45.12,192.52 46.07,193.88 47.10,194.70 C48.13,195.52 49.07,196.18 50.20,196.60 C51.33,197.02 52.68,197.17 53.90,197.20 C55.12,197.23 56.08,197.12 57.50,196.80 C58.92,196.48 60.75,195.95 62.40,195.30 C64.05,194.65 65.63,193.92 67.40,192.90 C69.17,191.88 71.58,190.17 73.00,189.20 C74.42,188.23 74.42,188.05 75.90,187.10 C77.38,186.15 80.12,184.60 81.90,183.50 C83.68,182.40 85.02,181.18 86.60,180.50 C88.18,179.82 90.02,179.98 91.40,179.40 C92.78,178.82 93.72,178.00 94.90,177.00 C96.08,176.00 97.42,174.27 98.50,173.40 C99.58,172.53 100.42,171.98 101.40,171.80 C102.38,171.62 103.45,172.07 104.40,172.30 C105.35,172.53 105.85,172.82 107.10,173.20 C108.35,173.58 110.32,174.07 111.90,174.60 C113.48,175.13 115.02,175.70 116.60,176.40 C118.18,177.10 119.82,177.92 121.40,178.80 C122.98,179.68 124.53,180.82 126.10,181.70 C127.67,182.58 129.25,183.30 130.80,184.10 C132.35,184.90 134.63,186.10 135.40,186.50" stroke="#404040" stroke-width="1.0" fill="none" stroke-linejoin="round"/>
<rect x="33.5" y="159" width="101.7" height="51.3" fill="none" stroke="#b4b4b4" stroke-width="1.15"/>
<path d="M167.5,201.75h1.8M269.2,201.75h-1.8M167.5,193.2h1.8M269.2,193.2h-1.8M167.5,184.65h1.8M269.2,184.65h-1.8M167.5,176.1h1.8M269.2,176.1h-1.8M167.5,167.55h1.8M269.2,167.55h-1.8M167.5,159v1.8M167.5,210.3v-1.8M192.93,159v1.8M192.93,210.3v-1.8M218.35,159v1.8M218.35,210.3v-1.8M243.78,159v1.8M243.78,210.3v-1.8M269.2,159v1.8M269.2,210.3v-1.8" stroke="#b4b4b4" stroke-width="0.8" fill="none"/>
<path d="M167.30,185.20 C168.10,185.47 170.48,186.20 172.10,186.80 C173.72,187.40 175.57,188.05 177.00,188.80 C178.43,189.55 179.27,190.55 180.70,191.30 C182.13,192.05 184.05,192.78 185.60,193.30 C187.15,193.82 188.58,194.17 190.00,194.40 C191.42,194.63 192.60,194.85 194.10,194.70 C195.60,194.55 197.17,194.08 199.00,193.50 C200.83,192.92 203.07,192.08 205.10,191.20 C207.13,190.32 209.40,189.20 211.20,188.20 C213.00,187.20 214.60,186.00 215.90,185.20 C217.20,184.40 217.43,184.22 219.00,183.40 C220.57,182.58 223.40,181.30 225.30,180.30 C227.20,179.30 228.92,178.08 230.40,177.40 C231.88,176.72 232.93,176.45 234.20,176.20 C235.47,175.95 236.53,175.83 238.00,175.90 C239.47,175.97 241.07,176.12 243.00,176.60 C244.93,177.08 247.03,177.83 249.60,178.80 C252.17,179.77 255.72,181.33 258.40,182.40 C261.08,183.47 263.90,184.55 265.70,185.20 C267.50,185.85 268.62,186.12 269.20,186.30" stroke="#7a7a7a" stroke-width="0.9" fill="none" stroke-linejoin="round"/>
<path d="M167.30,185.20 C168.10,185.30 170.48,185.50 172.10,185.80 C173.72,186.10 175.67,186.18 177.00,187.00 C178.33,187.82 179.38,189.28 180.10,190.70 C180.82,192.12 180.93,193.92 181.30,195.50 C181.67,197.08 181.92,198.88 182.30,200.20 C182.68,201.52 183.12,202.77 183.60,203.40 C184.08,204.03 184.67,204.20 185.20,204.00 C185.73,203.80 186.30,203.03 186.80,202.20 C187.30,201.37 187.70,200.07 188.20,199.00 C188.70,197.93 189.02,196.47 189.80,195.80 C190.58,195.13 191.37,195.33 192.90,195.00 C194.43,194.67 196.97,194.37 199.00,193.80 C201.03,193.23 203.07,192.47 205.10,191.60 C207.13,190.73 209.40,189.63 211.20,188.60 C213.00,187.57 214.43,186.27 215.90,185.40 C217.37,184.53 218.85,183.75 220.00,183.40 C221.15,183.05 221.48,183.30 222.80,183.30 C224.12,183.30 226.32,183.87 227.90,183.40 C229.48,182.93 231.25,181.63 232.30,180.50 C233.35,179.37 233.67,177.88 234.20,176.60 C234.73,175.32 235.03,173.90 235.50,172.80 C235.97,171.70 236.45,170.67 237.00,170.00 C237.55,169.33 238.22,168.97 238.80,168.80 C239.38,168.63 240.00,168.87 240.50,169.00 C241.00,169.13 240.95,168.98 241.80,169.60 C242.65,170.22 244.23,171.70 245.60,172.70 C246.97,173.70 248.53,174.95 250.00,175.60 C251.47,176.25 252.82,176.22 254.40,176.60 C255.98,176.98 257.80,177.18 259.50,177.90 C261.20,178.62 262.98,179.98 264.60,180.90 C266.22,181.82 268.43,182.98 269.20,183.40" stroke="#3c3c3c" stroke-width="1.0" fill="none" stroke-dasharray="2.1,1.9" stroke-linejoin="round"/>
<path d="M167.30,185.20 C168.10,185.50 170.48,186.30 172.10,187.00 C173.72,187.70 175.57,188.38 177.00,189.40 C178.43,190.42 179.48,192.13 180.70,193.10 C181.92,194.07 182.88,194.77 184.30,195.20 C185.72,195.63 187.57,195.72 189.20,195.70 C190.83,195.68 192.47,195.45 194.10,195.10 C195.73,194.75 197.17,194.25 199.00,193.60 C200.83,192.95 203.07,192.10 205.10,191.20 C207.13,190.30 209.40,189.20 211.20,188.20 C213.00,187.20 214.60,186.00 215.90,185.20 C217.20,184.40 217.43,184.22 219.00,183.40 C220.57,182.58 223.40,181.35 225.30,180.30 C227.20,179.25 228.92,177.93 230.40,177.10 C231.88,176.27 232.93,175.72 234.20,175.30 C235.47,174.88 236.53,174.67 238.00,174.60 C239.47,174.53 241.32,174.60 243.00,174.90 C244.68,175.20 246.20,175.73 248.10,176.40 C250.00,177.07 252.28,178.03 254.40,178.90 C256.52,179.77 258.92,180.77 260.80,181.60 C262.68,182.43 264.30,183.25 265.70,183.90 C267.10,184.55 268.62,185.23 269.20,185.50" stroke="#404040" stroke-width="1.0" fill="none" stroke-linejoin="round"/>
<rect x="167.5" y="159" width="101.7" height="51.3" fill="none" stroke="#b4b4b4" stroke-width="1.15"/>
<path d="M301.5,201.75h1.8M403.2,201.75h-1.8M301.5,193.2h1.8M403.2,193.2h-1.8M301.5,184.65h1.8M403.2,184.65h-1.8M301.5,176.1h1.8M403.2,176.1h-1.8M301.5,167.55h1.8M403.2,167.55h-1.8M301.5,159v1.8M301.5,210.3v-1.8M326.93,159v1.8M326.93,210.3v-1.8M352.35,159v1.8M352.35,210.3v-1.8M377.77,159v1.8M377.77,210.3v-1.8M403.2,159v1.8M403.2,210.3v-1.8" stroke="#b4b4b4" stroke-width="0.8" fill="none"/>
<path d="M301.50,184.60 C302.27,184.82 304.52,185.48 306.10,185.90 C307.68,186.32 309.37,186.53 311.00,187.10 C312.63,187.67 314.27,188.65 315.90,189.30 C317.53,189.95 319.17,190.52 320.80,191.00 C322.43,191.48 324.07,191.85 325.70,192.20 C327.33,192.55 328.97,193.12 330.60,193.10 C332.23,193.08 333.88,192.55 335.50,192.10 C337.12,191.65 338.68,191.15 340.30,190.40 C341.92,189.65 343.43,188.64 345.20,187.61 C346.97,186.58 348.98,185.13 350.90,184.21 C352.82,183.29 354.75,182.90 356.70,182.10 C358.65,181.30 361.13,180.02 362.60,179.40 C364.07,178.78 363.55,178.68 365.50,178.40 C367.45,178.12 371.37,177.58 374.30,177.70 C377.23,177.82 380.17,178.50 383.10,179.10 C386.03,179.70 388.97,180.43 391.90,181.30 C394.83,182.17 398.78,183.62 400.70,184.30 C402.62,184.98 402.95,185.22 403.40,185.40" stroke="#7a7a7a" stroke-width="0.9" fill="none" stroke-linejoin="round"/>
<path d="M301.50,184.60 C302.25,184.72 304.42,184.87 306.00,185.30 C307.58,185.73 309.70,186.48 311.00,187.20 C312.30,187.92 313.10,188.55 313.80,189.60 C314.50,190.65 314.73,192.23 315.20,193.50 C315.67,194.77 316.07,196.25 316.60,197.20 C317.13,198.15 317.77,198.87 318.40,199.20 C319.03,199.53 319.80,199.50 320.40,199.20 C321.00,198.90 321.50,198.10 322.00,197.40 C322.50,196.70 322.73,195.67 323.40,195.00 C324.07,194.33 324.80,193.68 326.00,193.40 C327.20,193.12 329.02,193.52 330.60,193.30 C332.18,193.08 333.88,192.58 335.50,192.10 C337.12,191.62 338.68,191.15 340.30,190.40 C341.92,189.65 343.43,188.67 345.20,187.60 C346.97,186.53 348.98,184.70 350.90,184.00 C352.82,183.30 355.00,183.50 356.70,183.40 C358.40,183.30 359.72,183.72 361.10,183.40 C362.48,183.08 363.92,182.55 365.00,181.50 C366.08,180.45 366.75,178.47 367.60,177.10 C368.45,175.73 369.15,174.23 370.10,173.30 C371.05,172.37 372.25,171.60 373.30,171.50 C374.35,171.40 375.15,172.12 376.40,172.70 C377.65,173.28 379.32,174.57 380.80,175.00 C382.28,175.43 383.82,175.03 385.30,175.30 C386.78,175.57 388.33,176.02 389.70,176.60 C391.07,177.18 392.23,178.08 393.50,178.80 C394.77,179.52 395.65,179.98 397.30,180.90 C398.95,181.82 402.38,183.73 403.40,184.30" stroke="#3c3c3c" stroke-width="1.0" fill="none" stroke-dasharray="2.1,1.9" stroke-linejoin="round"/>
<path d="M301.50,184.60 C302.27,184.90 304.52,185.80 306.10,186.40 C307.68,187.00 309.37,187.38 311.00,188.20 C312.63,189.02 314.27,190.58 315.90,191.30 C317.53,192.02 319.17,192.20 320.80,192.50 C322.43,192.80 324.07,193.00 325.70,193.10 C327.33,193.20 328.97,193.27 330.60,193.10 C332.23,192.93 333.88,192.55 335.50,192.10 C337.12,191.65 338.68,191.15 340.30,190.40 C341.92,189.65 343.43,188.64 345.20,187.61 C346.97,186.58 348.98,185.13 350.90,184.21 C352.82,183.29 354.75,182.95 356.70,182.10 C358.65,181.25 360.63,179.97 362.60,179.10 C364.57,178.23 366.55,177.43 368.50,176.90 C370.45,176.37 372.35,176.02 374.30,175.90 C376.25,175.78 378.23,175.90 380.20,176.20 C382.17,176.50 384.15,177.02 386.10,177.70 C388.05,178.38 389.95,179.45 391.90,180.30 C393.85,181.15 395.88,181.92 397.80,182.80 C399.72,183.68 402.47,185.13 403.40,185.60" stroke="#404040" stroke-width="1.0" fill="none" stroke-linejoin="round"/>
<rect x="301.5" y="159" width="101.7" height="51.3" fill="none" stroke="#b4b4b4" stroke-width="1.15"/>
<text x="84.35" y="12.8" font-size="9.6" text-anchor="middle">60<tspan font-size="7" dx="0.2" dy="-3.9">o</tspan><tspan dy="3.9"> - 1 s</tspan></text>
<text x="218.35" y="12.8" font-size="9.6" text-anchor="middle">75<tspan font-size="7" dx="0.2" dy="-3.9">o</tspan><tspan dy="3.9"> - 1 s</tspan></text>
<text x="352.35" y="12.8" font-size="9.6" text-anchor="middle">90<tspan font-size="7" dx="0.2" dy="-3.9">o</tspan><tspan dy="3.9"> - 1 s</tspan></text>
<text x="2.2" y="19.7" font-size="9.6">(<tspan font-style="italic" font-size="9" stroke="#333" stroke-width="0.14" dx="2.2">a</tspan><tspan dx="2.3">)</tspan></text>
<text x="149" y="19.7" font-size="9.6">(<tspan font-style="italic" font-size="9" stroke="#333" stroke-width="0.14" dx="2.2">b</tspan><tspan dx="2.3">)</tspan></text>
<text x="283" y="19.7" font-size="9.6">(<tspan font-style="italic" font-size="9" stroke="#333" stroke-width="0.14" dx="2.2">c</tspan><tspan dx="2.3">)</tspan></text>
<text x="2.2" y="89.3" font-size="9.6">(<tspan font-style="italic" font-size="9" stroke="#333" stroke-width="0.14" dx="2.2">d</tspan><tspan dx="2.3">)</tspan></text>
<text x="149" y="89.3" font-size="9.6">(<tspan font-style="italic" font-size="9" stroke="#333" stroke-width="0.14" dx="2.2">e</tspan><tspan dx="2.3">)</tspan></text>
<text x="283" y="89.3" font-size="9.6">(<tspan font-style="italic" font-size="9" stroke="#333" stroke-width="0.14" dx="2.2">f</tspan><tspan dx="2.3">)</tspan></text>
<text x="2.2" y="161.3" font-size="9.6">(<tspan font-style="italic" font-size="9" stroke="#333" stroke-width="0.14" dx="2.2">g</tspan><tspan dx="2.3">)</tspan></text>
<text x="149" y="161.3" font-size="9.6">(<tspan font-style="italic" font-size="9" stroke="#333" stroke-width="0.14" dx="2.2">h</tspan><tspan dx="2.3">)</tspan></text>
<text x="283" y="161.3" font-size="9.6">(<tspan font-style="italic" font-size="9" stroke="#333" stroke-width="0.14" dx="2.2">i</tspan><tspan dx="2.3">)</tspan></text>
<text x="31.0" y="29.08" font-size="8.8" text-anchor="end">10</text>
<text x="31.0" y="44.35" font-size="8.8" text-anchor="end">0</text>
<text x="31.0" y="59.62" font-size="8.8" text-anchor="end">10</text>
<path d="M20.6,56.92h1.3" stroke="#aaa" stroke-width="0.7"/>
<text x="31.0" y="89.7" font-size="8.8" text-anchor="end">8</text>
<text x="31.0" y="110.22" font-size="8.8" text-anchor="end">4</text>
<text x="31.0" y="130.74" font-size="8.8" text-anchor="end">0</text>
<text x="31.0" y="170.65" font-size="8.8" text-anchor="end">5</text>
<text x="31.0" y="187.75" font-size="8.8" text-anchor="end">0</text>
<text x="31.0" y="204.85" font-size="8.8" text-anchor="end">5</text>
<path d="M25,202.15h1.3" stroke="#aaa" stroke-width="0.7"/>
<text x="7.4" y="45.05" font-size="12.7" stroke="#1e1e1e" stroke-width="0.12">C<tspan font-size="7.8" stroke-width="0" dx="0.1" dy="4.3">S</tspan></text>
<text x="7.4" y="117.05" font-size="12.7" stroke="#1e1e1e" stroke-width="0.12">C<tspan font-size="7.0" stroke-width="0" dx="0.5" dy="2.4">T</tspan></text>
<text x="7.4" y="187.15" font-size="12.7" stroke="#1e1e1e" stroke-width="0.12">C<tspan font-size="8.3" stroke-width="0" dx="0.4" dy="3.3">τ</tspan></text>
<text x="33.5" y="221.9" font-size="8.6" text-anchor="middle">0</text>
<text x="84.35" y="221.9" font-size="8.6" text-anchor="middle">0.5</text>
<text x="135.2" y="221.9" font-size="8.6" text-anchor="middle">1</text>
<text x="80.65" y="232.7" font-size="9.8">t<tspan font-size="9.8" dx="0.2" dy="0.3">*</tspan></text>
<text x="167.5" y="221.9" font-size="8.6" text-anchor="middle">0</text>
<text x="218.35" y="221.9" font-size="8.6" text-anchor="middle">0.5</text>
<text x="269.2" y="221.9" font-size="8.6" text-anchor="middle">1</text>
<text x="214.65" y="232.7" font-size="9.8">t<tspan font-size="9.8" dx="0.2" dy="0.3">*</tspan></text>
<text x="301.5" y="221.9" font-size="8.6" text-anchor="middle">0</text>
<text x="352.35" y="221.9" font-size="8.6" text-anchor="middle">0.5</text>
<text x="403.2" y="221.9" font-size="8.6" text-anchor="middle">1</text>
<text x="348.65" y="232.7" font-size="9.8">t<tspan font-size="9.8" dx="0.2" dy="0.3">*</tspan></text>
<path d="M85.2,246.9H98.6" stroke="#333" stroke-width="0.6"/>
<text x="99.8" y="250.3" font-size="8.1">Plate R0</text>
<path d="M189.8,247.1H204" stroke="#333" stroke-width="0.8" stroke-dasharray="0.8,0.8"/>
<text x="204.9" y="250.3" font-size="8.1">Plate RM2</text>
<path d="M303,246.9H314.4" stroke="#333" stroke-width="0.8" stroke-dasharray="4.4,3"/>
<text x="317.6" y="250.3" font-size="8.1">Plate AM2</text>
</g></svg></body></html>
